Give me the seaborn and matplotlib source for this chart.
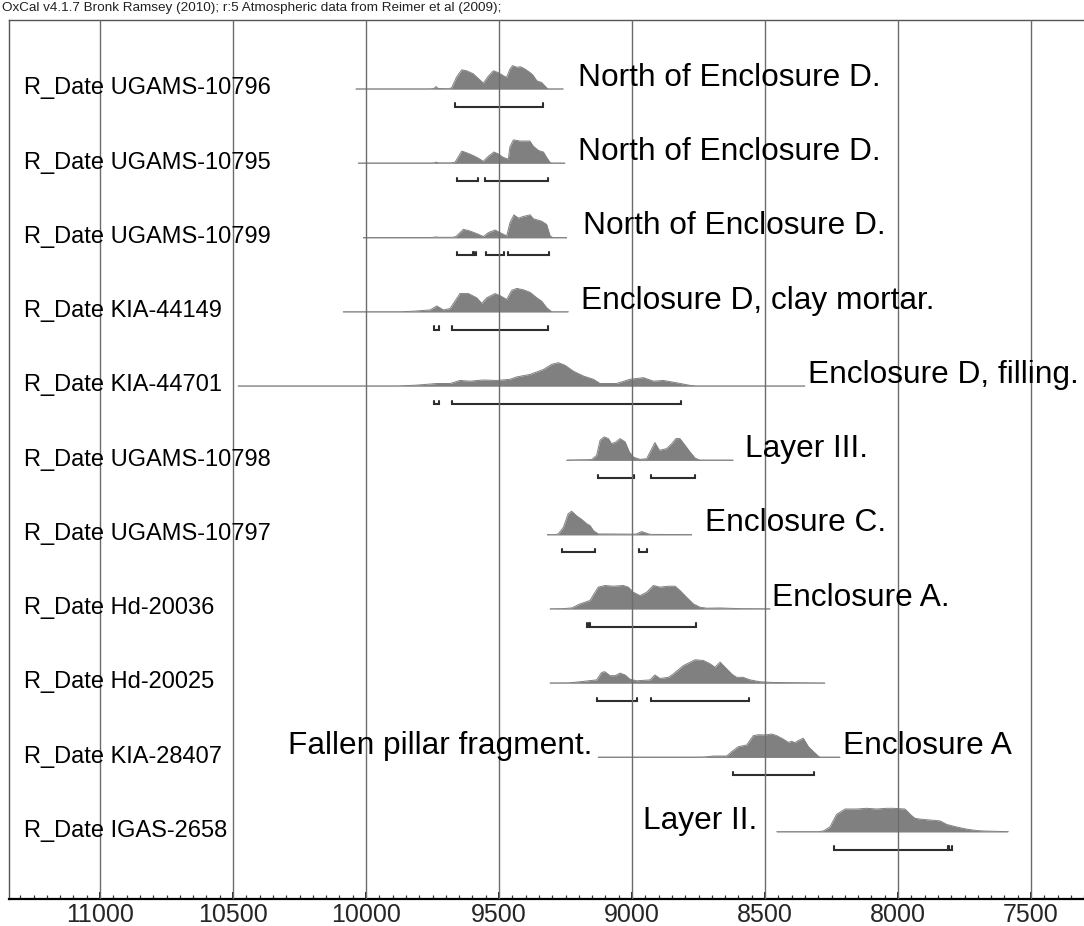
import matplotlib
matplotlib.use("Agg")
import matplotlib.pyplot as plt
from matplotlib.ticker import MultipleLocator
import numpy as np
import pandas as pd
import seaborn as sns

# ---------------------------------------------------------------------------
# Radiocarbon samples (top to bottom) and their context notes
# ---------------------------------------------------------------------------
sample_labels = [
    "R_Date UGAMS-10796", "R_Date UGAMS-10795", "R_Date UGAMS-10799",
    "R_Date KIA-44149", "R_Date KIA-44701", "R_Date UGAMS-10798",
    "R_Date UGAMS-10797", "R_Date Hd-20036", "R_Date Hd-20025",
    "R_Date KIA-28407", "R_Date IGAS-2658",
]

# calibrated probability curves: years cal BP and relative probability
years_ugams_10796 = [10038, 9760, 9745, 9737, 9728, 9690, 9678, 9660, 9640, 9622, 9597, 9578, 9559, 9540,
                     9521, 9503, 9481, 9471, 9459, 9449, 9434, 9419, 9402, 9383, 9373, 9358, 9340, 9321,
                     9315, 9258]
prob_ugams_10796 = [0, 0, 0.02, 0.1, 0.02, 0.01, 0.05, 0.5, 0.82, 0.78, 0.65, 0.45, 0.25, 0.55,
                    0.78, 0.7, 0.55, 0.5, 0.85, 1.0, 0.93, 0.95, 0.85, 0.7, 0.6, 0.35, 0.28, 0.05,
                    0, 0]

years_ugams_10795 = [10029, 9760, 9745, 9737, 9728, 9680, 9665, 9640, 9622, 9597, 9578, 9559, 9540, 9519,
                     9503, 9484, 9465, 9459, 9446, 9421, 9384, 9371, 9352, 9333, 9321, 9308, 9302, 9252]
prob_ugams_10795 = [0, 0, 0.01, 0.05, 0.01, 0.01, 0.05, 0.52, 0.45, 0.33, 0.22, 0.08, 0.3, 0.48,
                    0.4, 0.25, 0.18, 0.7, 1.0, 0.95, 0.95, 0.73, 0.55, 0.48, 0.25, 0.03, 0, 0]

years_ugams_10799 = [10010, 9760, 9745, 9737, 9728, 9675, 9662, 9634, 9609, 9578, 9559, 9540, 9515, 9496,
                     9471, 9459, 9444, 9427, 9409, 9383, 9371, 9340, 9321, 9308, 9298, 9246]
prob_ugams_10799 = [0, 0, 0.01, 0.03, 0.01, 0.01, 0.04, 0.35, 0.28, 0.14, 0.04, 0.21, 0.32, 0.21,
                    0.07, 0.63, 0.97, 0.83, 0.9, 0.97, 0.8, 0.7, 0.56, 0.07, 0, 0]

years_kia_44149 = [10085, 9870, 9816, 9759, 9734, 9709, 9684, 9647, 9615, 9584, 9565, 9546, 9515, 9496,
                   9471, 9452, 9433, 9408, 9383, 9358, 9340, 9321, 9302, 9239]
prob_kia_44149 = [0, 0, 0.03, 0.08, 0.25, 0.08, 0.14, 0.78, 0.78, 0.6, 0.36, 0.6, 0.78, 0.69,
                  0.53, 0.92, 1.0, 0.94, 0.83, 0.6, 0.46, 0.18, 0, 0]

years_kia_44701 = [10481, 9885, 9810, 9734, 9684, 9647, 9609, 9559, 9509, 9459, 9434, 9383, 9333, 9302,
                   9277, 9252, 9221, 9183, 9145, 9120, 9095, 9058, 9008, 8957, 8920, 8882, 8832, 8782,
                   8757, 8350]
prob_kia_44701 = [0, 0, 0.04, 0.11, 0.11, 0.24, 0.21, 0.26, 0.24, 0.29, 0.39, 0.5, 0.71, 0.93,
                  1.0, 0.89, 0.64, 0.43, 0.29, 0.11, 0.11, 0.11, 0.29, 0.36, 0.21, 0.24, 0.14, 0.03,
                  0, 0]

years_ugams_10798 = [9246, 9152, 9133, 9120, 9105, 9089, 9077, 9060, 9045, 9026, 9010, 8995, 8970, 8945,
                     8932, 8914, 8897, 8870, 8851, 8835, 8820, 8805, 8782, 8763, 8744, 8619]
prob_ugams_10798 = [0, 0.03, 0.21, 0.86, 1.0, 0.93, 0.71, 0.79, 0.93, 0.79, 0.36, 0.14, 0.04, 0.07,
                    0.36, 0.76, 0.43, 0.5, 0.71, 0.93, 0.93, 0.71, 0.36, 0.1, 0, 0]

years_ugams_10797 = [9318, 9290, 9277, 9258, 9240, 9227, 9208, 9189, 9170, 9158, 9145, 9127, 8990, 8983,
                     8964, 8948, 8932, 8776]
prob_ugams_10797 = [0, 0, 0.03, 0.31, 0.89, 1.0, 0.8, 0.65, 0.46, 0.39, 0.17, 0.03, 0.02, 0.03,
                    0.13, 0.07, 0.01, 0]

years_hd_20036 = [9308, 9260, 9227, 9196, 9158, 9127, 9102, 9070, 9033, 9014, 8995, 8970, 8945, 8920,
                  8895, 8863, 8838, 8820, 8795, 8769, 8744, 8719, 8669, 8594, 8481]
prob_hd_20036 = [0, 0.01, 0.04, 0.21, 0.36, 0.93, 1.0, 0.97, 1.0, 0.93, 0.71, 0.57, 0.71, 1.0,
                 0.93, 0.97, 0.97, 0.79, 0.5, 0.21, 0.07, 0.03, 0.04, 0.01, 0]

years_hd_20025 = [9308, 9240, 9196, 9133, 9114, 9102, 9083, 9064, 9045, 9026, 9008, 8983, 8932, 8914,
                  8895, 8863, 8845, 8807, 8763, 8732, 8707, 8688, 8669, 8650, 8625, 8607, 8582, 8556,
                  8519, 8469, 8275]
prob_hd_20025 = [0, 0.01, 0.06, 0.14, 0.46, 0.49, 0.32, 0.32, 0.43, 0.35, 0.17, 0.1, 0.14, 0.35,
                 0.2, 0.25, 0.39, 0.75, 1.0, 0.97, 0.83, 0.68, 0.9, 0.68, 0.39, 0.25, 0.25, 0.14,
                 0.06, 0.03, 0]

years_kia_28407 = [9127, 8760, 8732, 8694, 8644, 8625, 8600, 8569, 8544, 8525, 8500, 8475, 8456, 8431,
                   8412, 8400, 8387, 8375, 8356, 8337, 8318, 8300, 8293, 8218]
prob_kia_28407 = [0, 0, 0.01, 0.06, 0.06, 0.25, 0.46, 0.53, 0.93, 0.97, 0.96, 1.0, 0.93, 0.78,
                  0.64, 0.69, 0.63, 0.72, 0.82, 0.46, 0.25, 0.06, 0, 0]

years_igas_2658 = [8456, 8300, 8281, 8256, 8231, 8199, 8155, 8118, 8080, 8043, 8018, 7974, 7949, 7936,
                   7917, 7892, 7867, 7842, 7817, 7779, 7742, 7704, 7679, 7585]
prob_igas_2658 = [0, 0, 0.03, 0.2, 0.74, 0.97, 0.97, 1.0, 0.97, 1.0, 1.0, 0.97, 0.69, 0.57,
                  0.54, 0.51, 0.49, 0.46, 0.31, 0.2, 0.11, 0.05, 0.03, 0]

curve_years = [years_ugams_10796, years_ugams_10795, years_ugams_10799, years_kia_44149,
               years_kia_44701, years_ugams_10798, years_ugams_10797, years_hd_20036,
               years_hd_20025, years_kia_28407, years_igas_2658]
curve_probs = [prob_ugams_10796, prob_ugams_10795, prob_ugams_10799, prob_kia_44149,
               prob_kia_44701, prob_ugams_10798, prob_ugams_10797, prob_hd_20036,
               prob_hd_20025, prob_kia_28407, prob_igas_2658]

# 95.4% highest posterior density ranges (cal BP, older -> younger)
hpd_ranges = [
    [(9665, 9336)],
    [(9658, 9578), (9554, 9316)],
    [(9657, 9597), (9595, 9588), (9550, 9481), (9467, 9311)],
    [(9744, 9724), (9678, 9315)],
    [(9744, 9724), (9678, 8817)],
    [(9129, 8993), (8929, 8763)],
    [(9264, 9139), (8972, 8945)],
    [(9170, 9161), (9158, 8760)],
    [(9130, 8980), (8930, 8559)],
    [(8619, 8316)],
    [(8241, 7812), (7808, 7796)],
]

# context notes: row, text and the year where the text starts
note_rows = [0, 1, 2, 3, 4, 5, 6, 7, 9, 9, 10]
note_texts = ["North of Enclosure D.", "North of Enclosure D.", "North of Enclosure D.",
              "Enclosure D, clay mortar.", "Enclosure D, filling.", "Layer III.",
              "Enclosure C.", "Enclosure A.", "Fallen pillar fragment.", "Enclosure A",
              "Layer II."]
note_years = [9203, 9203, 9184, 9192, 8338, 8575, 8726, 8474, 10293, 8207, 8959]

axis_ticks = [11000, 10500, 10000, 9500, 9000, 8500, 8000, 7500]
header = "OxCal v4.1.7 Bronk Ramsey (2010); r:5 Atmospheric data from Reimer et al (2009);"

# ---------------------------------------------------------------------------
# Styling
# ---------------------------------------------------------------------------
sns.set_theme(style="white")
plt.rcParams["font.family"] = ["Liberation Sans", "DejaVu Sans"]

FILL = "#808080"
BASE = "#c4c4c4"
BRACKET = "#2e2e2e"
GRID = "#6c6c6c"
PEAK = 0.315         # height of a normalised curve in row units
BRACKET_DROP = 0.24  # range bars sit below the curve baseline
BRACKET_TICK = 0.045

W, H = 1084, 926
fig = plt.figure(figsize=(W / 100, H / 100), dpi=100)

# axes frame: left edge 9 px, top 20 px, axis line at 899 px; runs off the right edge
left_px, top_px, bottom_px, right_px = 9, 20, 899, 1100
ax = fig.add_axes([left_px / W, (H - bottom_px) / H,
                   (right_px - left_px) / W, (bottom_px - top_px) / H])

px_per_year = 133 / 500
x_left = 11000 + (100 - left_px) / px_per_year
x_right = x_left - (right_px - left_px) / px_per_year
row_px = 74.27
y_top = (top_px - 89) / row_px
y_bottom = (bottom_px - 89) / row_px

# long-form table of curves, offset to their rows
frames = []
for i, (yrs, pr) in enumerate(zip(curve_years, curve_probs)):
    frames.append(pd.DataFrame({"sample": sample_labels[i], "row": i,
                                "year": yrs, "prob": pr}))
curves = pd.concat(frames, ignore_index=True)
curves["curve_y"] = curves["row"] - curves["prob"] * PEAK

# baselines spanning each calibrated range
for i, yrs in enumerate(curve_years):
    ax.plot([max(yrs), min(yrs)], [i, i], color=BASE, lw=1.2, zorder=1,
            solid_capstyle="butt")

# filled probability curves
for i, grp in curves.groupby("row"):
    ax.fill_between(grp["year"], grp["row"], grp["curve_y"], color=FILL,
                    lw=0, zorder=2)
sns.lineplot(data=curves, x="year", y="curve_y", units="sample", estimator=None,
             sort=False, color=FILL, lw=0.7, legend=False, ax=ax, zorder=2)

# 95.4% range brackets
for i, spans in enumerate(hpd_ranges):
    yb = i + BRACKET_DROP
    for a, b in spans:
        ax.plot([a, a, b, b], [yb - BRACKET_TICK, yb, yb, yb - BRACKET_TICK],
                color=BRACKET, lw=1.5, zorder=3, solid_joinstyle="miter")

# vertical grid lines at the labelled years
ax.vlines(axis_ticks, y_top, y_bottom, color=GRID, lw=1.0, zorder=4)

# sample names
for i, lab in enumerate(sample_labels):
    ax.text(x_left - 15 / px_per_year, i - 0.01, lab, ha="left", va="center",
            fontsize=17, color="black", zorder=5)

# context notes
for r, txt, yr in zip(note_rows, note_texts, note_years):
    ax.text(yr, r - 0.15, txt, ha="left", va="center", fontsize=22.8,
            color="black", zorder=5)

ax.set_xlim(x_left, x_right)
ax.set_ylim(y_bottom, y_top)
ax.set_xlabel("")
ax.set_ylabel("")
ax.set_yticks([])
ax.set_xticks(axis_ticks)
ax.set_xticklabels([str(t) for t in axis_ticks])
ax.xaxis.set_minor_locator(MultipleLocator(50))
ax.tick_params(axis="x", which="major", direction="in", length=5, width=1.2,
               color="black", labelsize=18, pad=3, bottom=True, top=False)
ax.tick_params(axis="x", which="minor", direction="in", length=3, width=0.9,
               color="#333333", bottom=True, top=False)

for side in ("left", "top"):
    ax.spines[side].set_color("#555555")
    ax.spines[side].set_linewidth(1.0)
ax.spines["right"].set_visible(False)
ax.spines["bottom"].set_color("black")
ax.spines["bottom"].set_linewidth(1.6)

fig.text(2 / W, 1 - 8 / H, header, ha="left", va="center", fontsize=9.7,
         color="#222222")

fig.savefig("out.png", dpi=100)
